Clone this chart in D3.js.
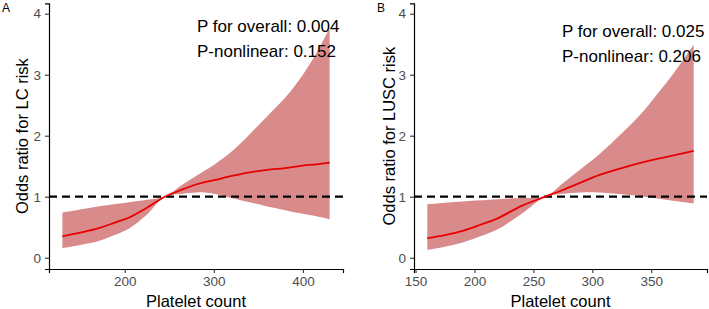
<!DOCTYPE html>
<html>
<head>
<meta charset="utf-8">
<script src="https://cdn.jsdelivr.net/npm/d3@7"></script>
<style>
  body { margin: 0; background: #fff; }
  svg text { font-family: "Liberation Sans", Arial, sans-serif; }
</style>
</head>
<body>
<div id="chart"></div>
<script>
// panel A: LC
const plateletA = [130, 150, 170, 190, 205, 225, 245, 265, 280, 290, 300, 320, 340, 360, 380, 400, 415, 430];
const orA       = [0.35, 0.41, 0.48, 0.58, 0.66, 0.82, 1.00, 1.12, 1.20, 1.24, 1.27, 1.34, 1.40, 1.44, 1.47, 1.51, 1.53, 1.56];
const lowA      = [0.16, 0.21, 0.27, 0.38, 0.48, 0.71, 1.00, 1.05, 1.07, 1.07, 1.05, 0.98, 0.91, 0.84, 0.78, 0.72, 0.68, 0.63];
const upA       = [0.74, 0.79, 0.84, 0.88, 0.91, 0.95, 1.00, 1.20, 1.34, 1.43, 1.52, 1.74, 2.02, 2.32, 2.62, 3.00, 3.35, 3.76];
const ticksA = [200, 300, 400];

// panel B: LUSC
const plateletB = [160, 175, 190, 205, 220, 240, 260, 275, 290, 305, 325, 340, 355, 370, 386];
const orB       = [0.32, 0.37, 0.44, 0.54, 0.65, 0.85, 1.00, 1.11, 1.23, 1.35, 1.47, 1.55, 1.62, 1.68, 1.75];
const lowB      = [0.13, 0.18, 0.25, 0.35, 0.47, 0.72, 1.00, 1.05, 1.07, 1.07, 1.04, 1.01, 0.97, 0.93, 0.89];
const upB       = [0.875, 0.90, 0.92, 0.94, 0.96, 0.98, 1.00, 1.22, 1.45, 1.68, 2.04, 2.33, 2.68, 3.05, 3.49];
const ticksB = [150, 200, 250, 300, 350];

const yTicks = [0, 1, 2, 3, 4];
const tags = ["A", "B"];
const yTitles = ["Odds ratio for LC risk", "Odds ratio for LUSC risk"];
const pOverall = ["0.004", "0.025"];
const pNonlinear = ["0.152", "0.206"];

const width = 709, height = 309;
const svg = d3.select("#chart").append("svg")
  .attr("width", width)
  .attr("height", height);

const panels = [
  { x: plateletA, or: orA, low: lowA, up: upA, ticks: ticksA,
    left: 49, right: 343, xdom: [115, 445], tagX: 2, titleX: 28, annoX: 197, annoY: 32 },
  { x: plateletB, or: orB, low: lowB, up: upB, ticks: ticksB,
    left: 414, right: 707, xdom: [148.7, 397.3], tagX: 377, titleX: 395, annoX: 562, annoY: 37 }
];

const plotTop = 3.3, plotBottom = 269;
const smooth = d3.curveCatmullRom.alpha(0.5);

panels.forEach(function(p, k) {
  const x = d3.scaleLinear().domain(p.xdom).range([p.left, p.right]);
  const y = d3.scaleLinear().domain([-0.185, 4.17]).range([plotBottom, plotTop]);

  const pts = p.x.map((v, i) => ({ x: v, or: p.or[i], low: p.low[i], up: p.up[i] }));

  const g = svg.append("g");

  // confidence band
  g.append("path")
    .datum(pts)
    .attr("fill", "#d98b8b")
    .attr("d", d3.area()
      .curve(smooth)
      .x(d => x(d.x))
      .y0(d => y(d.low))
      .y1(d => y(d.up)));

  // reference line at OR = 1
  g.append("line")
    .attr("x1", p.left).attr("x2", p.right)
    .attr("y1", y(1)).attr("y2", y(1))
    .attr("stroke", "#000")
    .attr("stroke-width", 2.2)
    .attr("stroke-dasharray", "8,5");

  // OR curve
  g.append("path")
    .datum(pts)
    .attr("fill", "none")
    .attr("stroke", "#e60000")
    .attr("stroke-width", 1.8)
    .attr("d", d3.line()
      .curve(smooth)
      .x(d => x(d.x))
      .y(d => y(d.or)));

  // axes
  const xAxis = g.append("g")
    .attr("transform", `translate(0,${plotBottom})`)
    .call(d3.axisBottom(x).tickValues(p.ticks).tickSizeOuter(0).tickSize(4).tickPadding(3));
  const yAxis = g.append("g")
    .attr("transform", `translate(${p.left},0)`)
    .call(d3.axisLeft(y).tickValues(yTicks).tickFormat(d3.format("d"))
      .tickSizeOuter(0).tickSize(4).tickPadding(4));

  [xAxis, yAxis].forEach(function(a) {
    a.select(".domain").attr("stroke", "#000").attr("stroke-width", 1.2);
    a.selectAll(".tick line").attr("stroke", "#333").attr("stroke-width", 1.1);
    a.selectAll(".tick text")
      .attr("fill", "#4d4d4d")
      .style("font-size", "13.5px");
  });

  // titles
  g.append("text")
    .attr("x", (p.left + p.right) / 2)
    .attr("y", 307)
    .attr("text-anchor", "middle")
    .style("font-size", "16.5px")
    .attr("fill", "#000")
    .text("Platelet count");

  g.append("text")
    .attr("transform", `translate(${p.titleX},${(plotTop + plotBottom) / 2}) rotate(-90)`)
    .attr("text-anchor", "middle")
    .style("font-size", "16.5px")
    .attr("fill", "#000")
    .text(yTitles[k]);

  g.append("text")
    .attr("x", p.tagX)
    .attr("y", 12)
    .style("font-size", "12px")
    .attr("fill", "#000")
    .text(tags[k]);

  // annotations
  g.append("text")
    .attr("x", p.annoX)
    .attr("y", p.annoY)
    .style("font-size", "17px")
    .attr("fill", "#000")
    .text("P for overall: " + pOverall[k]);
  g.append("text")
    .attr("x", p.annoX)
    .attr("y", p.annoY + 25)
    .style("font-size", "17px")
    .attr("fill", "#000")
    .text("P-nonlinear: " + pNonlinear[k]);
});
</script>
</body>
</html>
